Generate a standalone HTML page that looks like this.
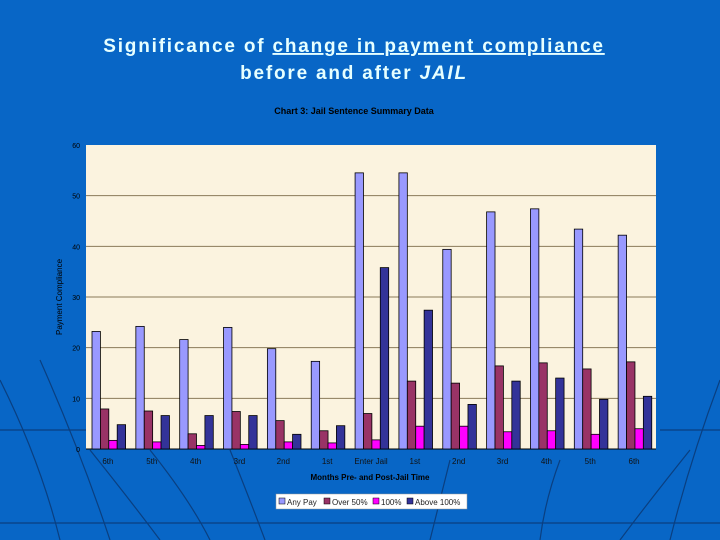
<!DOCTYPE html>
<html><head><meta charset="utf-8"><style>
html,body{margin:0;padding:0;width:720px;height:540px;overflow:hidden;background:#0866c6;font-family:"Liberation Sans",sans-serif;}
svg{display:block;}
</style></head><body>
<svg width="720" height="540" xmlns="http://www.w3.org/2000/svg">
<rect width="720" height="540" fill="#0866c6"/>
<g stroke="#0a3f80" stroke-width="1.2" fill="none">
<path d="M0 380 Q40 460 60 540"/><path d="M40 360 Q80 450 110 540"/><path d="M90 450 Q130 500 160 540"/>
<path d="M150 450 Q190 500 210 540"/><path d="M230 450 Q250 500 265 540"/><path d="M720 380 Q690 460 670 540"/>
<path d="M690 450 Q650 500 620 540"/><path d="M560 460 Q545 500 540 540"/><path d="M450 460 Q440 500 430 540"/>
<path d="M0 523 L720 523"/><path d="M660 430 L720 430"/><path d="M0 430 L90 430"/>
</g>
<text x="354" y="52" text-anchor="middle" fill="#e6ffff" font-size="19" font-weight="bold" letter-spacing="1.8">Significance of <tspan text-decoration="underline">change in payment compliance</tspan></text>
<text x="354" y="79" text-anchor="middle" fill="#e6ffff" font-size="19" font-weight="bold" letter-spacing="1.8">before and after <tspan font-style="italic">JAIL</tspan></text>
<text x="354" y="114" text-anchor="middle" fill="#000" font-size="9" font-weight="bold">Chart 3:  Jail Sentence Summary Data</text>
<rect x="86" y="145" width="570" height="304" fill="#fbf3df"/>
<g id="grid"></g><g id="bars"></g><g id="ticks"></g>
<text transform="translate(62,297) rotate(-90)" text-anchor="middle" font-size="8" fill="#000">Payment Compliance</text>
<text x="370" y="480" text-anchor="middle" font-size="8" font-weight="bold" fill="#000">Months Pre- and Post-Jail Time</text>
<g>
<rect x="276" y="494" width="191" height="15" fill="#fff" stroke="#999" stroke-width="0.5"/>
<rect x="279" y="498" width="6" height="6" fill="#9999ff" stroke="#000" stroke-width="0.5"/><text x="287" y="505" font-size="8" fill="#222">Any Pay</text>
<rect x="324" y="498" width="6" height="6" fill="#993366" stroke="#000" stroke-width="0.5"/><text x="332" y="505" font-size="8" fill="#222">Over 50%</text>
<rect x="373" y="498" width="6" height="6" fill="#ff00ff" stroke="#000" stroke-width="0.5"/><text x="381" y="505" font-size="8" fill="#222">100%</text>
<rect x="407" y="498" width="6" height="6" fill="#333399" stroke="#000" stroke-width="0.5"/><text x="415" y="505" font-size="8" fill="#222">Above 100%</text>
</g>
</svg>
<script>
const categories=["6th","5th","4th","3rd","2nd","1st","Enter Jail","1st","2nd","3rd","4th","5th","6th"];
const anyPay=[23.2,24.2,21.6,24,19.8,17.3,54.5,54.5,39.4,46.8,47.4,43.4,42.2];
const over50=[7.9,7.5,3,7.4,5.6,3.6,7,13.4,13,16.4,17,15.8,17.2];
const full100=[1.7,1.4,0.7,0.9,1.4,1.2,1.8,4.5,4.5,3.4,3.6,2.9,4];
const above100=[4.8,6.6,6.6,6.6,2.9,4.6,35.8,27.4,8.8,13.4,14,9.8,10.4];
const yTicks=[0,10,20,30,40,50,60];
const NS="http://www.w3.org/2000/svg";
const X0=86,X1=656,Y0=449,Y1=145,YMAX=60;
const y=v=>Y0-(v/YMAX)*(Y0-Y1);
const gw=(X1-X0)/categories.length;
const gx=i=>X0+i*gw;
function mk(t,a,p){const e=document.createElementNS(NS,t);for(const k in a)e.setAttribute(k,a[k]);p.appendChild(e);return e;}
const grid=document.getElementById('grid'),bars=document.getElementById('bars'),ticks=document.getElementById('ticks');
yTicks.forEach(v=>{
  if(v>0&&v<60){const l=mk('line',{x1:X0,x2:X1,y1:y(v),y2:y(v),stroke:'#8a7a5a','stroke-width':1},grid);
  
  }
  const t=mk('text',{x:X0-6,y:y(v)+3,'text-anchor':'end','font-size':7,fill:'#000'},ticks);t.textContent=v;
  
  
});
mk('line',{x1:X0,x2:X1,y1:Y0,y2:Y0,stroke:'#000','stroke-width':1},grid);
const series=[[anyPay,'#9999ff','any-pay'],[over50,'#993366','over-50'],[full100,'#ff00ff','100-percent'],[above100,'#333399','above-100']];
const bw=8.4;
categories.forEach((c,i)=>{
  series.forEach((s,j)=>{
    const v=s[0][i];
    const r=mk('rect',{x:gx(i)+6+j*bw,y:y(v),width:bw,height:Y0-y(v),fill:s[1],stroke:'#000','stroke-width':0.8},bars);
    
    
  });
  const t=mk('text',{x:gx(i)+gw/2,y:464,'text-anchor':'middle','font-size':8,fill:'#111'},ticks);t.textContent=c;
  
  
});
</script>
</body></html>
